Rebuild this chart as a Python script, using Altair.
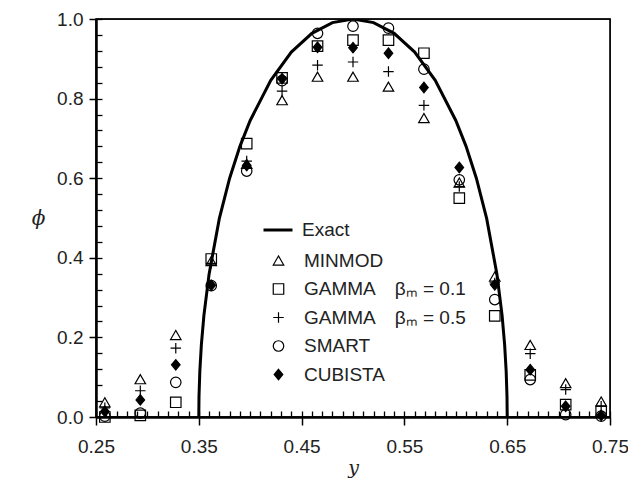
import altair as alt
import pandas as pd

# positions (y coordinate of the cells)
y_pos = [0.2586, 0.2931, 0.3276, 0.3621, 0.3966, 0.4310, 0.4655, 0.5000,
         0.5345, 0.5690, 0.6034, 0.6379, 0.6724, 0.7069, 0.7414]

minmod  = [0.037, 0.095, 0.206, 0.392, 0.636, 0.796, 0.855, 0.855, 0.830, 0.751, 0.589, 0.353, 0.181, 0.085, 0.039]
gamma01 = [0.000, 0.004, 0.037, 0.397, 0.687, 0.852, 0.932, 0.947, 0.947, 0.914, 0.550, 0.254, 0.106, 0.031, 0.014]
gamma05 = [0.023, 0.066, 0.173, 0.386, 0.643, 0.819, 0.884, 0.892, 0.868, 0.783, 0.579, 0.337, 0.159, 0.069, 0.027]
smart   = [0.002, 0.010, 0.087, 0.330, 0.618, 0.845, 0.964, 0.982, 0.977, 0.874, 0.596, 0.295, 0.094, 0.006, 0.002]
cubista = [0.014, 0.043, 0.131, 0.331, 0.632, 0.850, 0.929, 0.928, 0.914, 0.828, 0.627, 0.332, 0.119, 0.027, 0.004]

# exact solution
exact_y   = [0.35, 0.3502, 0.351, 0.3525, 0.355, 0.36, 0.37, 0.38, 0.39, 0.40, 0.42, 0.44, 0.46, 0.48, 0.50,
             0.52, 0.54, 0.56, 0.58, 0.60, 0.61, 0.62, 0.63, 0.64, 0.645, 0.6475, 0.649, 0.6498, 0.65]
exact_phi = [0.0, 0.052, 0.115, 0.182, 0.256, 0.359, 0.499, 0.600, 0.680, 0.745, 0.846, 0.917, 0.964, 0.991, 1.0,
             0.991, 0.964, 0.917, 0.846, 0.745, 0.680, 0.600, 0.499, 0.359, 0.256, 0.182, 0.115, 0.052, 0.0]

names = ["MINMOD", "GAMMA\u2003\u03b2\u2098 = 0.1", "GAMMA\u2003\u03b2\u2098 = 0.5", "SMART", "CUBISTA"]
series = [minmod, gamma01, gamma05, smart, cubista]

x_major = [0.25, 0.35, 0.45, 0.55, 0.65, 0.75]
y_major = [0.0, 0.2, 0.4, 0.6, 0.8, 1.0]
x_minor = [round(0.25 + 0.01 * i, 2) for i in range(51)]
y_minor = [round(0.04 * i, 2) for i in range(26)]
x_lim, y_lim = [0.25, 0.75], [0.0, 1.0]

rows = []
for n, vals in zip(names, series):
    for xv, pv in zip(y_pos, vals):
        rows.append({"y": xv, "phi": pv, "scheme": n})
pts = pd.DataFrame(rows)
ex = pd.DataFrame({"y": exact_y, "phi": exact_phi, "name": ["Exact"] * len(exact_y)})
box = pd.DataFrame({"y": [x_lim[0]], "y_end": [x_lim[1]], "phi": [y_lim[0]], "phi_end": [y_lim[1]]})

FONT = "Liberation Sans"
xs = alt.Scale(domain=x_lim, nice=False, zero=False)
ys = alt.Scale(domain=y_lim, nice=False)

line = alt.Chart(ex).mark_line(strokeWidth=3, clip=True).encode(
    x=alt.X("y:Q", scale=xs, axis=alt.Axis(
        values=x_major, format=".2f", orient="bottom", tickSize=8, tickWidth=1.5, tickColor="black",
        domainWidth=2.5, domainColor="black", labelFont=FONT, labelFontSize=19, labelColor="#222",
        labelFlush=False, labelOverlap=False,
        labelPadding=12, grid=False, title="y", titleFont="DejaVu Serif", titleFontStyle="italic",
        titleFontWeight="normal", titleFontSize=19, titleColor="#222", titleY=50, titleBaseline="middle")),
    y=alt.Y("phi:Q", scale=ys, axis=alt.Axis(
        values=y_major, format=".1f", orient="left", tickSize=7, tickWidth=1.5, tickColor="black",
        domainWidth=2.5, domainColor="black", labelFont=FONT, labelFontSize=19, labelColor="#222",
        labelFlush=False, labelOverlap=False,
        labelPadding=6, grid=False, title="\u03d5", titleFont="DejaVu Serif", titleFontStyle="italic",
        titleFontWeight="normal", titleFontSize=20, titleColor="#222", titleAngle=0,
        titleX=-58, titleY=199, titleAlign="center", titleBaseline="middle")),
    color=alt.Color("name:N", scale=alt.Scale(domain=["Exact"], range=["black"]),
                    legend=alt.Legend(orient="none", legendX=166, legendY=195, title="",
                                      labelFont=FONT, labelFontSize=19, labelColor="#222",
                                      symbolStrokeWidth=3, symbolSize=841, labelOffset=8,
                                      padding=0, symbolType="stroke")),
)

shape_range = ["triangle-up", "square", "M-1,0H1M0,-1V1", "circle", "M0,-1L0.82,0L0,1L-0.82,0Z"]
fill_range = ["transparent", "transparent", "transparent", "transparent", "black"]
stroke_range = ["black"] * 5

leg = alt.Legend(orient="none", legendX=173, legendY=232, title="",
                 labelFont=FONT, labelFontSize=19, labelColor="#222", labelLimit=400,
                 symbolStrokeColor="black", symbolStrokeWidth=1.2,
                 symbolSize=110, labelOffset=16, rowPadding=8.5, padding=0)

points = alt.Chart(pts).mark_point(filled=False, strokeWidth=1.2, opacity=1, size=110).encode(
    x=alt.X("y:Q", scale=xs, axis=None),
    y=alt.Y("phi:Q", scale=ys, axis=None),
    shape=alt.Shape("scheme:N", scale=alt.Scale(domain=names, range=shape_range), legend=leg),
    fill=alt.Fill("scheme:N", scale=alt.Scale(domain=names, range=fill_range), legend=leg),
    stroke=alt.Stroke("scheme:N", scale=alt.Scale(domain=names, range=stroke_range), legend=leg),
)

minor = alt.Chart(ex).mark_point(opacity=0).encode(
    x=alt.X("y:Q", scale=xs, axis=alt.Axis(values=x_minor, orient="bottom", offset=-6, tickSize=6,
                                           tickWidth=1.3, tickColor="black", domain=False, labels=False,
                                           grid=False, title="")),
    y=alt.Y("phi:Q", scale=ys, axis=alt.Axis(values=y_minor, orient="left", offset=-6, tickSize=6,
                                             tickWidth=1.3, tickColor="black", domain=False, labels=False,
                                             grid=False, title="")),
)

frame = alt.Chart(box).mark_rect(fill="transparent", stroke="black", strokeWidth=1.3).encode(
    x=alt.X("y:Q", scale=xs, axis=None),
    x2="y_end",
    y=alt.Y("phi:Q", scale=ys, axis=None),
    y2="phi_end",
)

chart = alt.layer(line, points, minor, frame).resolve_axis(
    x="independent", y="independent"
).resolve_scale(x="shared", y="shared").properties(
    width=514, height=398,
    padding={"left": 88, "top": 11, "right": 18, "bottom": 63},
    autosize=alt.AutoSizeParams(type="none"),
    background="white",
).configure_view(stroke="black", strokeWidth=1.3)

chart.save("out.html", embed_options={"renderer": "svg", "actions": False})
